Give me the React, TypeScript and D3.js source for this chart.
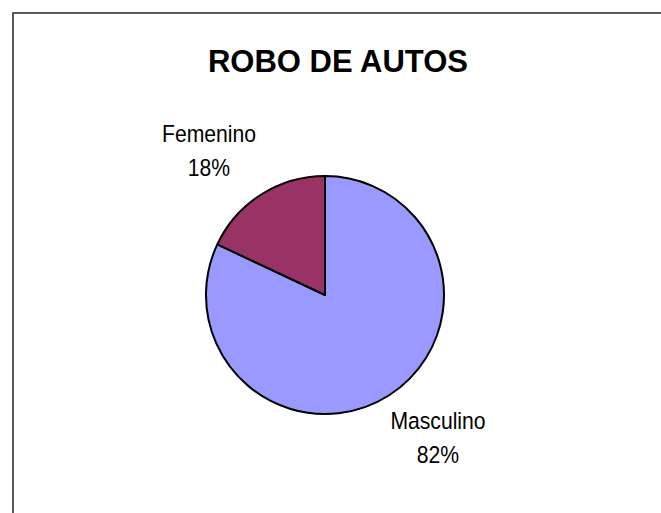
import React from "react";
import * as d3 from "d3";

const categories = ["Masculino", "Femenino"];
const values = [82, 18];
const colors = ["#9999FF", "#993366"];
const title = "ROBO DE AUTOS";

const W = 661;
const H = 513;
const cx = 325;
const cy = 295;
const R = 119;

const labelPos: Record<string, [number, number]> = {
  Masculino: [438, 429],
  Femenino: [209, 142],
};

export default function App() {
  const pie = d3.pie<number>().sort(null).value((d) => d);
  const arcs = pie(values);
  const arc = d3.arc<d3.PieArcDatum<number>>().innerRadius(0).outerRadius(R);
  const total = d3.sum(values);
  return (
    <svg
      width={W}
      height={H}
      style={{ position: "absolute", left: 0, top: 0, background: "#fff" }}
    >
      <rect x={0} y={0} width={W} height={H} fill="#fff" />
      <rect x={13} y={13} width={800} height={700} fill="none" stroke="#333" strokeWidth={1.6} />
      <text
        x={338}
        y={72}
        textAnchor="middle"
        fontFamily="'Liberation Sans', Arial, sans-serif"
        fontWeight="bold"
        fontSize={31}
        fill="#000"
      >
        {title}
      </text>
      <g transform={`translate(${cx},${cy})`}>
        {arcs.map((a, i) => (
          <path key={categories[i]} d={arc(a) || ""} fill={colors[i]} stroke="#000" strokeWidth={2} strokeLinejoin="round" />
        ))}
      </g>
      {categories.map((c, i) => {
        const [x, y] = labelPos[c];
        const pct = Math.round((values[i] / total) * 100) + "%";
        return (
          <g key={c} transform={`translate(${x},${y}) scale(0.9,1)`}>
            <text
              x={0}
              y={0}
              textAnchor="middle"
              fontFamily="'Liberation Sans', Arial, sans-serif"
              fontSize={23.5}
              fill="#000"
            >
              <tspan x={0} dy={0}>{c}</tspan>
              <tspan x={0} dy={34}>{pct}</tspan>
            </text>
          </g>
        );
      })}
    </svg>
  );
}
